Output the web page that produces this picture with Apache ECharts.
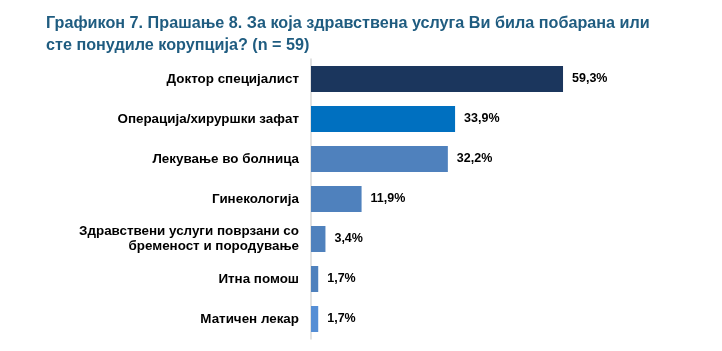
<!DOCTYPE html>
<html><head><meta charset="utf-8">
<script src="https://cdn.jsdelivr.net/npm/echarts@6/dist/echarts.min.js"></script>
<style>html,body{margin:0;padding:0;background:#fff}#c{width:722px;height:351px}</style>
</head><body><div id="c"></div>
<script>
const categories = ["Доктор специјалист","Операција/хируршки зафат","Лекување во болница","Гинекологија","Здравствени услуги поврзани со\nбременост и породување","Итна помош","Матичен лекар"];
const values = [59.3,33.9,32.2,11.9,3.4,1.7,1.7];
const colors = ["#1B365D","#0070C0","#4F81BD","#4F81BD","#4F81BD","#4F81BD","#558ED5"];
const titleText = "Графикон 7. Прашање 8. За која здравствена услуга Ви била побарана или\nсте понудиле корупција? (n = 59)";
const chart = echarts.init(document.getElementById('c'));
chart.setOption({
  animation:false,
  title:{text:titleText,left:46,top:12,padding:0,textStyle:{fontFamily:'Liberation Sans, Arial',fontSize:16.2,fontWeight:'bold',color:'#1F5C80',lineHeight:22.5}},
  grid:{left:311,top:59,height:280,width:340},
  xAxis:{type:'value',min:0,max:80,show:false},
  yAxis:{type:'category',inverse:true,data:categories,
    axisLine:{show:true,lineStyle:{color:'#D9D9D9',width:1.5}},axisTick:{show:false},
    axisLabel:{margin:12,fontFamily:'Liberation Sans, Arial',fontSize:13.4,fontWeight:'bold',color:'#000',lineHeight:15,align:'right'}},
  series:[{type:'bar',barWidth:26,
    data:values.map((v,i)=>({value:v,itemStyle:{color:colors[i]}})),
    label:{show:true,position:'right',distance:9,fontFamily:'Liberation Sans, Arial',fontSize:12.5,fontWeight:'bold',color:'#000',
      formatter:p=>p.value.toFixed(1).replace('.',',')+'%'}}]
});
</script></body></html>
